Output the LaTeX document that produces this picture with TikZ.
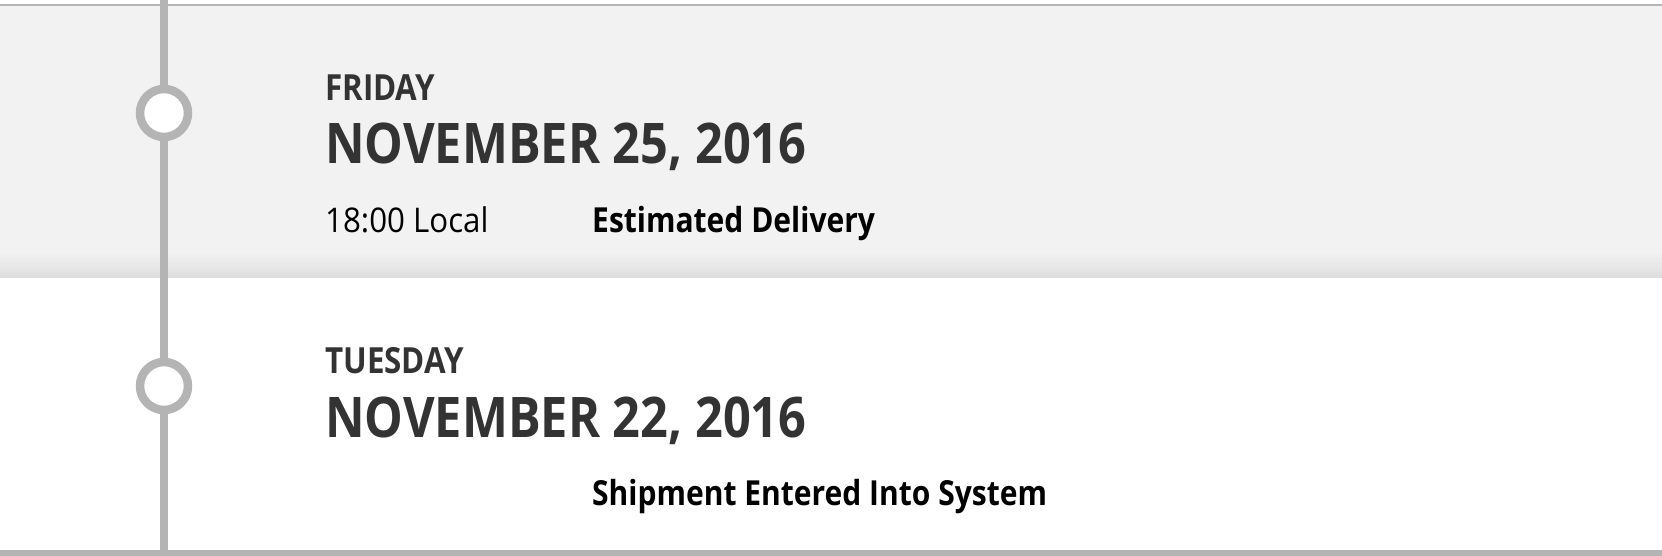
\documentclass[tikz,border=0pt]{standalone}
\usepackage{fontspec}
\setmainfont{Open Sans}
\newfontfamily\headfont[FakeStretch=0.87]{Open Sans}
\newfontfamily\bodyfont[FakeStretch=0.92]{Open Sans}
\definecolor{railgray}{HTML}{B4B4B4}
\definecolor{bandgray}{HTML}{F2F2F2}
\definecolor{shadowgray}{HTML}{DEDEDE}
\definecolor{inkgray}{HTML}{333333}
\tikzset{
	evt/.style = {circle, draw=railgray, fill=white, line width=8.5pt,
		minimum size=48pt, inner sep=0pt},
	rail/.style = {draw=railgray, line width=7.5pt},
	dayname/.style = {anchor=base west, inner sep=0pt, text=inkgray,
		font=\headfont\bfseries\fontsize{36}{40}\selectfont},
	datename/.style = {anchor=base west, inner sep=0pt, text=inkgray,
		font=\headfont\bfseries\fontsize{56}{64}\selectfont},
	timetext/.style = {anchor=base west, inner sep=0pt, text=black,
		font=\bodyfont\fontsize{34}{40}\selectfont},
	statustext/.style = {anchor=base west, inner sep=0pt, text=black,
		font=\headfont\bfseries\fontsize{34.5}{40}\selectfont}
}

\begin{document}
\begin{tikzpicture}[x=1pt, y=-1pt]
\useasboundingbox (0,0) rectangle (1662,556);
% background band with its shadow
\fill[bandgray] (0,6) rectangle (1662,277);
\shade[top color=bandgray, bottom color=shadowgray] (0,252) rectangle (1662,277);
\draw[railgray, line width=2pt] (0,5) -- (1662,5);
\draw[railgray, line width=6pt] (0,553) -- (1662,553);
% timeline
\coordinate (railtop) at (164,0);
\coordinate (railend) at (164,553);
\node [evt] (evt1) at (164,113) {};
\node [evt] (evt2) at (164,386) {};
\draw[rail] (railtop) -- (evt1);
\draw[rail] (evt1) -- (evt2);
\draw[rail] (evt2) -- (railend);
% first event
\node [dayname] (day1) at (325,101) {FRIDAY};
\node [datename] (date1) at (325,164) {NOVEMBER 25, 2016};
\node [timetext] (time1) at (325,233) {18:00 Local};
\node [statustext] (status1) at (592,233) {Estimated Delivery};
% second event
\node [dayname] (day2) at (325,373) {TUESDAY};
\node [datename] (date2) at (325,437) {NOVEMBER 22, 2016};
\node [statustext] (status2) at (592,505) {Shipment Entered Into System};
\end{tikzpicture}
\end{document}
